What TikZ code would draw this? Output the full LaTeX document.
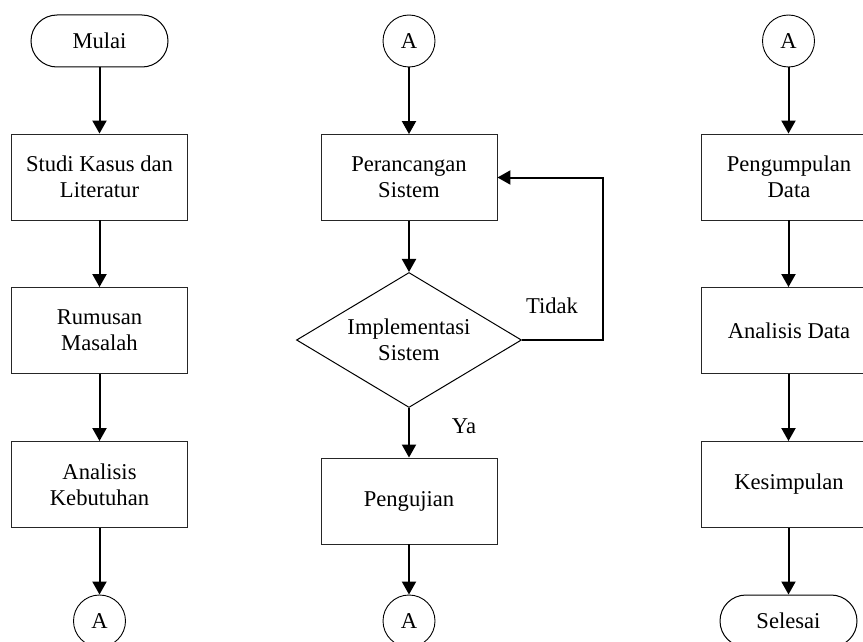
\documentclass[tikz,border=0pt]{standalone}
\usepackage{fontspec}
\setmainfont{Liberation Serif}
\usetikzlibrary{shapes.geometric,arrows.meta}
\begin{document}
\begin{tikzpicture}[x=1pt,y=-1pt,
  every node/.style={font=\fontsize{22.6}{26}\selectfont, text=black},
  process/.style={draw=black!85, line width=0.9pt, rectangle, minimum width=176pt, minimum height=86pt, inner sep=0pt, align=center},
  terminal/.style={draw=black, line width=1pt, rectangle, rounded corners=26pt, minimum width=137pt, minimum height=52pt, inner sep=0pt},
  connector/.style={draw=black, line width=0.9pt, circle, minimum size=52pt, inner sep=0pt},
  decision/.style={draw=black, line width=1pt, diamond, aspect=1.667, minimum width=225pt, minimum height=135pt, inner sep=0pt, align=center},
  flow/.style={draw=black, line width=2pt, -{Triangle[length=13pt,width=14pt]}},
  lbl/.style={anchor=base, inner sep=0pt}
]
\useasboundingbox (0,0) rectangle (863,642);
\clip (0,0) rectangle (863,642);

% left column
\node[terminal] (mulai) at (99.5,41) {Mulai};
\node[process] (studi) at (99.5,177) {Studi Kasus dan\\Literatur};
\node[process] (rumusan) at (99.5,330.5) {Rumusan\\Masalah};
\node[process] (analisis) at (99.5,484.5) {Analisis\\Kebutuhan};
\node[connector] (a1) at (99.5,621) {A};

% middle column
\node[connector] (a2) at (409,41) {A};
\node[process] (rancang) at (409,177.5) {Perancangan\\Sistem};
\node[decision] (impl) at (409,340) {Implementasi\\Sistem};
\node[process] (uji) at (409,501) {Pengujian};
\node[connector] (a3) at (409,621) {A};
\coordinate (loop) at (603,177.5);

% right column
\node[connector] (a4) at (788.5,41) {A};
\node[process] (kumpul) at (789,177) {Pengumpulan\\Data};
\node[process] (data) at (789,330.5) {Analisis Data};
\node[process] (simpul) at (789,484.5) {Kesimpulan};
\node[terminal] (selesai) at (788.5,621) {Selesai};

% connectors
\draw[flow] (mulai) -- (studi);
\draw[flow] (studi) -- (rumusan);
\draw[flow] (rumusan) -- (analisis);
\draw[flow] (analisis) -- (a1);

\draw[flow] (a2) -- (rancang);
\draw[flow] (rancang) -- (impl);
\draw[flow] (impl) -- (uji);
\draw[flow] (uji) -- (a3);
\draw[flow] (impl.east) -| (loop) -- (rancang.east);

\draw[flow] (a4) -- (a4 |- kumpul.north);
\draw[flow] (kumpul.south -| a4) -- (a4 |- data.north);
\draw[flow] (data.south -| a4) -- (a4 |- simpul.north);
\draw[flow] (simpul.south -| a4) -- (selesai);

% branch labels
\node[lbl] (tidak) at (552,313) {Tidak};
\node[lbl] (ya) at (464,433) {Ya};
\end{tikzpicture}
\end{document}
